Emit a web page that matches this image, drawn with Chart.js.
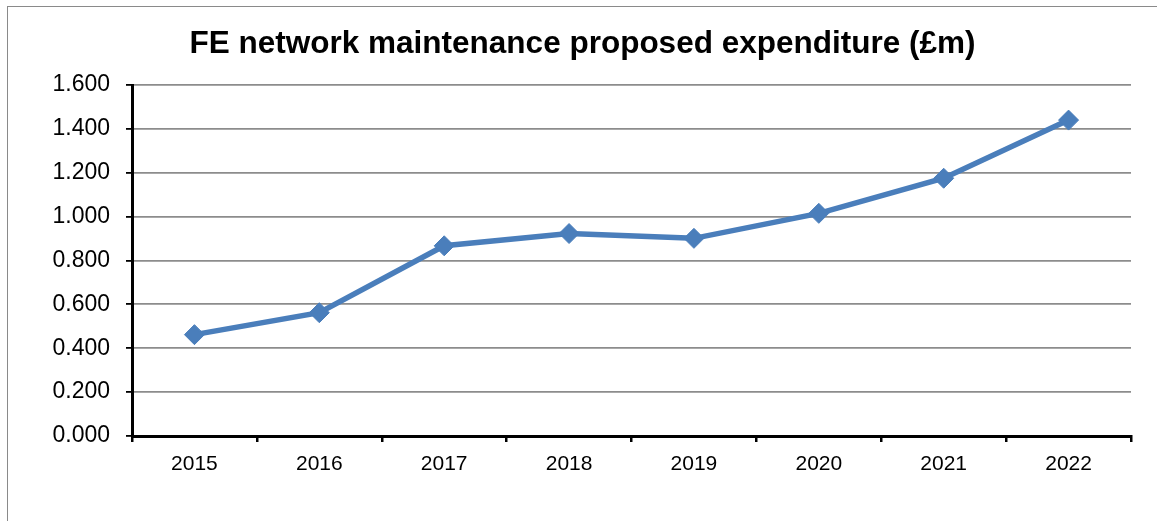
<!DOCTYPE html>
<html>
<head>
<meta charset="utf-8">
<script src="https://cdn.jsdelivr.net/npm/chart.js@4/dist/chart.umd.min.js"></script>
<style>
html,body{margin:0;padding:0;background:#fff;overflow:hidden;}
#wrap{position:absolute;left:0;top:0;width:1157px;height:521px;}
#frame{position:absolute;left:7px;top:6px;width:1200px;height:600px;border:1px solid #8a8a8a;box-sizing:border-box;}
canvas{position:absolute;left:0;top:0;}
</style>
</head>
<body>
<div id="wrap"><div id="frame"></div><canvas id="c" width="1157" height="521"></canvas></div>
<script>
const titleText = 'FE network maintenance proposed expenditure (£m)';
const categories = ['2015','2016','2017','2018','2019','2020','2021','2022'];
const expenditure = [0.462, 0.562, 0.867, 0.923, 0.901, 1.015, 1.175, 1.440];
const yTicks = [0, 0.2, 0.4, 0.6, 0.8, 1.0, 1.2, 1.4, 1.6];

const FONT = '"Liberation Sans", Arial, sans-serif';
new Chart(document.getElementById('c'), {
  type: 'line',
  data: {
    labels: categories,
    datasets: [{
      data: expenditure,
      borderColor: '#4a7ebb',
      backgroundColor: '#4a7ebb',
      borderWidth: 5.5,
      pointStyle: 'rectRot',
      pointRadius: 10,
      pointBorderWidth: 1,
      pointBackgroundColor: '#4a7ebb',
      pointBorderColor: '#4a7ebb',
      tension: 0,
      fill: false
    }]
  },
  options: {
    responsive: false,
    animation: false,
    layout: { padding: { left: 34, right: 26, top: 20, bottom: 0 } },
    plugins: {
      legend: { display: false },
      tooltip: { enabled: false },
      title: {
        display: true,
        text: titleText,
        color: '#000',
        font: { family: FONT, size: 31.5, weight: 'bold', lineHeight: 1.2 },
        padding: { top: 5.6, bottom: 21.6 }
      }
    },
    scales: {
      x: {
        offset: true,
        grid: { offset: true, drawOnChartArea: false, drawTicks: true, tickLength: 6, tickColor: '#000', lineWidth: 2.5 },
        border: { color: '#000', width: 3 },
        ticks: { color: '#000', font: { family: FONT, size: 21 }, padding: 10, maxRotation: 0 },
        afterFit: s => { s.height = 85; }
      },
      y: {
        min: 0, max: 1.6,
        afterBuildTicks: s => { s.ticks = yTicks.map(v => ({ value: v })); },
        grid: { color: '#8c8c8c', lineWidth: 1.8, tickColor: '#000', tickLength: 6, drawTicks: true },
        border: { color: '#000', width: 3 },
        ticks: { color: '#000', font: { family: FONT, size: 23 }, padding: 16, callback: v => Number(v).toFixed(3) },
        afterFit: s => { s.width = 98; }
      }
    }
  }
});
</script>
</body>
</html>
